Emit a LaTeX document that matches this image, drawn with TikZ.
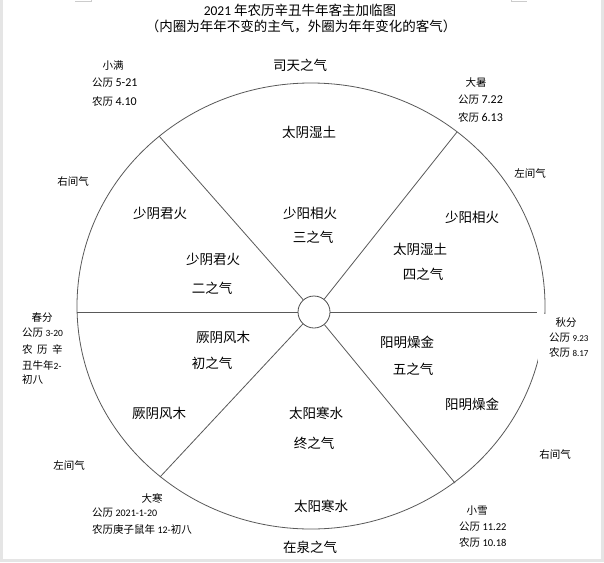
\documentclass[tikz,border=0pt]{standalone}
\usepackage{fontspec}
\setmainfont{Noto Sans CJK SC}
\newfontfamily\numfont{Carlito}
\newcommand{\numtxt}[1]{{\numfont #1}}

\tikzset{
	rim/.style={draw=black!65, line width=0.8pt},
	qi/.style={inner sep=0pt, font=\fontsize{13.5}{15}\selectfont},
	note/.style={inner sep=0pt, font=\fontsize{10.5}{12}\selectfont},
	hubring/.style={circle, draw=black!70, line width=0.8pt, fill=white, minimum size=32pt, inner sep=0pt}
}

\begin{document}
\begin{tikzpicture}[x=1pt,y=-1pt]
		\useasboundingbox (0,0) rectangle (604,562);
		
		% Page
		\fill[black!10] (0,0) rectangle (604,562);
		\fill[white] (3,0) rectangle (601,559);
		\draw[black!20] (75,1) -- (91,1) -- (91,0);
		\draw[black!20] (511,0) -- (511,1) -- (527,1);
		
		% Title
		\node[inner sep=0pt, font=\fontsize{13.5}{15}\selectfont] (title) at (300,10) {\numtxt{2021} 年农历辛丑牛年客主加临图};
		\node[inner sep=0pt, font=\fontsize{13.5}{15}\selectfont] (subtitle) at (301,26) {（内圈为年年不变的主气，外圈为年年变化的客气）};
		
		% Wheel
		\draw[rim] (311,306) ellipse [x radius=234, y radius=223];
		\fill[white] (538,314) rectangle (600,362);
		\node[hubring] (hub) at (314,312) {};
		\coordinate (ul) at (159,136);
		\coordinate (ur) at (457,132);
		\coordinate (ll) at (160,477);
		\coordinate (lr) at (455,483);
		\coordinate (w) at (77,312);
		\coordinate (e) at (537,312);
		
		% Spokes
		\draw[rim] (hub) -- (ul);
		\draw[rim] (hub) -- (ur);
		\draw[rim] (hub) -- (ll);
		\draw[rim] (hub) -- (lr);
		\draw[rim] (hub) -- (w);
		\draw[rim] (hub) -- (e);
		
		% Inner and outer qi
		\node[qi] (sitian) at (300,65) {司天之气};
		\node[qi] (zaiquan) at (310,547) {在泉之气};
		\node[qi] (guest3) at (309,132) {太阴湿土};
		\node[qi] (guest2) at (160,213) {少阴君火};
		\node[qi] (host3) at (310,213) {少阳相火};
		\node[qi] (step3) at (313,237) {三之气};
		\node[qi] (guest4) at (472,217) {少阳相火};
		\node[qi] (host2) at (213,259) {少阴君火};
		\node[qi] (step2) at (212,288) {二之气};
		\node[qi] (host4) at (420,249) {太阴湿土};
		\node[qi] (step4) at (423,274) {四之气};
		\node[qi] (host1) at (223,337) {厥阴风木};
		\node[qi] (step1) at (212,363) {初之气};
		\node[qi] (host5) at (407,342) {阳明燥金};
		\node[qi] (step5) at (413,369) {五之气};
		\node[qi] (guest1) at (159,413) {厥阴风木};
		\node[qi] (host6) at (316,413) {太阳寒水};
		\node[qi] (step6) at (314,443) {终之气};
		\node[qi] (guest5) at (472,404) {阳明燥金};
		\node[qi] (guest6) at (321,506) {太阳寒水};
		
		% Side qi
		\node[note] (rightjian1) at (73,182) {右间气};
		\node[note] (leftjian1) at (530,173) {左间气};
		\node[note] (rightjian2) at (555,454) {右间气};
		\node[note] (leftjian2) at (69,465) {左间气};
		
		% Solar terms
		\node[note] (xiaoman) at (113,66) {小满};
		\node[note, anchor=west] (xiaoman-g) at (92,83) {公历 {\fontsize{12}{12}\selectfont\numtxt{5-21}}};
		\node[note, anchor=west] (xiaoman-n) at (92,102) {农历 {\fontsize{12}{12}\selectfont\numtxt{4.10}}};
		
		\node[note] (dashu) at (476,83) {大暑};
		\node[note, anchor=west] (dashu-g) at (458,100) {公历 {\fontsize{12}{12}\selectfont\numtxt{7.22}}};
		\node[note, anchor=west] (dashu-n) at (458,118) {农历 {\fontsize{12}{12}\selectfont\numtxt{6.13}}};
		
		\node[note] (chunfen) at (42,318) {春分};
		\node[note, anchor=west] (chunfen-g) at (22,333) {公历 {\fontsize{9.5}{10}\selectfont\numtxt{3-20}}};
		\node[note, anchor=west] (chunfen-n1) at (22,349) {农\hspace{4.5pt}历\hspace{4.5pt}辛};
		\node[note, anchor=west] (chunfen-n2) at (22,365) {丑牛年{\fontsize{9.5}{10}\selectfont\numtxt{2-}}};
		\node[note, anchor=west] (chunfen-n3) at (22,380) {初八};
		
		\node[note] (qiufen) at (566,323) {秋分};
		\node[note, anchor=west] (qiufen-g) at (549,338) {公历 {\fontsize{9}{10}\selectfont\numtxt{9.23}}};
		\node[note, anchor=west] (qiufen-n) at (549,353) {农历 {\fontsize{9}{10}\selectfont\numtxt{8.17}}};
		
		\node[note] (dahan) at (152,498) {大寒};
		\node[note, anchor=west] (dahan-g) at (92,513) {公历 {\fontsize{10}{10}\selectfont\numtxt{2021-1-20}}};
		\node[note, anchor=west] (dahan-n) at (92,529) {农历庚子鼠年 {\fontsize{10}{10}\selectfont\numtxt{12-}}初八};
		
		\node[note] (xiaoxue) at (477,511) {小雪};
		\node[note, anchor=west] (xiaoxue-g) at (459,527) {公历 {\fontsize{10.5}{10}\selectfont\numtxt{11.22}}};
		\node[note, anchor=west] (xiaoxue-n) at (459,543) {农历 {\fontsize{10.5}{10}\selectfont\numtxt{10.18}}};
		
\end{tikzpicture}
\end{document}
